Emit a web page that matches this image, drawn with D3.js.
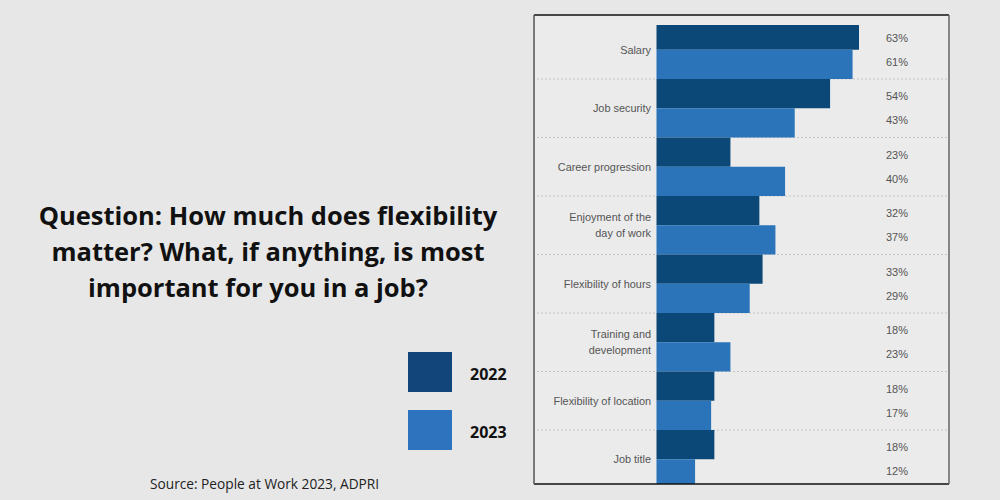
<!DOCTYPE html>
<html><head><meta charset="utf-8">
<script src="https://cdn.jsdelivr.net/npm/d3@7"></script>
<style>
html,body{margin:0;padding:0;background:#e7e7e7;}
svg{display:block;}
</style></head>
<body>
<svg id="chart" width="1000" height="500"></svg>
<script>
const categories = [["Salary"],["Job security"],["Career progression"],["Enjoyment of the","day of work"],["Flexibility of hours"],["Training and","development"],["Flexibility of location"],["Job title"]];
const years = ["2022","2023"];
const values2022 = [63,54,23,32,33,18,18,18];
const values2023 = [61,43,40,37,29,23,17,12];
const titleLines = ["Question: How much does flexibility","matter? What, if anything, is most","important for you in a job?"];
const sourceText = "Source: People at Work 2023, ADPRI";

const colors = {"2022":"#0b4878","2023":"#2b74ba"};
const svg = d3.select("#chart");

// box
const box = {x0:534, y0:15, x1:949, y1:484};
svg.append("rect").attr("x",box.x0).attr("y",box.y0).attr("width",box.x1-box.x0).attr("height",box.y1-box.y0).attr("fill","#ebebeb");

const idx = categories.map((d,i)=>i);
const y = d3.scaleBand().domain(idx).range([20.5, 20.5+58.5*8]).paddingInner(0).paddingOuter(0);
const ySub = d3.scaleBand().domain(years).range([0, y.bandwidth()]);
const x = d3.scaleLinear().domain([0,63]).range([656.5, 859]);

svg.append("defs").append("clipPath").attr("id","clip")
  .append("rect").attr("x",box.x0).attr("y",25).attr("width",box.x1-box.x0).attr("height",box.y1-25);

// separators
svg.append("g").selectAll("line").data(idx.slice(1)).join("line")
  .attr("x1",box.x0+3).attr("x2",box.x1-2)
  .attr("y1",d=>y(d)).attr("y2",d=>y(d))
  .attr("stroke","#c4c4c4").attr("stroke-width",1).attr("stroke-dasharray","2,2");

const rows = [];
idx.forEach(i=>{
  rows.push({i, year:"2022", v:values2022[i]});
  rows.push({i, year:"2023", v:values2023[i]});
});

svg.append("g").attr("clip-path","url(#clip)").selectAll("rect").data(rows).join("rect")
  .attr("x",x(0)).attr("y",d=>y(d.i)+ySub(d.year))
  .attr("width",d=>x(d.v)-x(0)).attr("height",ySub.bandwidth())
  .attr("fill",d=>colors[d.year]);

// value labels
svg.append("g").selectAll("text").data(rows).join("text")
  .attr("x",897).attr("y",d=>y(d.i)+y.bandwidth()/2+(d.year==="2022"?-12:12))
  .attr("dy","0.35em").attr("text-anchor","middle")
  .attr("font-family","Liberation Sans, Arial, sans-serif").attr("font-size",11).attr("fill","#555")
  .text(d=>d.v+"%");

// category labels
const cl = svg.append("g").selectAll("text").data(idx).join("text")
  .attr("text-anchor","end")
  .attr("font-family","Liberation Sans, Arial, sans-serif").attr("font-size",10.9).attr("fill","#555");
cl.each(function(i){
  const lines = categories[i];
  const cy = y(i)+y.bandwidth()/2;
  const t = d3.select(this);
  lines.forEach((ln,k)=>{
    t.append("tspan").attr("x",651).attr("y",cy+(k-(lines.length-1)/2)*16).attr("dy","0.35em").text(ln);
  });
});

// border
svg.append("line").attr("x1",box.x0).attr("x2",box.x1).attr("y1",box.y0).attr("y2",box.y0).attr("stroke","#111").attr("stroke-width",1.5);
svg.append("line").attr("x1",box.x0).attr("x2",box.x1).attr("y1",box.y1).attr("y2",box.y1).attr("stroke","#111").attr("stroke-width",1.5);
svg.append("line").attr("x1",box.x0).attr("x2",box.x0).attr("y1",box.y0).attr("y2",box.y1).attr("stroke","#555").attr("stroke-width",1.5);
svg.append("line").attr("x1",box.x1).attr("x2",box.x1).attr("y1",box.y0).attr("y2",box.y1).attr("stroke","#666").attr("stroke-width",1.5);

// title
svg.append("g").selectAll("text").data(titleLines).join("text")
  .attr("x",(d,i)=>i===2?258:268).attr("y",(d,i)=>225+i*36)
  .attr("text-anchor","middle")
  .attr("font-family","Open Sans, sans-serif").attr("font-weight",700).attr("font-size",25.5).attr("fill","#111")
  .text(d=>d);

// legend
const lg = svg.append("g").selectAll("g").data(years).join("g")
  .attr("transform",(d,i)=>`translate(408,${352+i*58})`);
lg.append("rect").attr("width",44).attr("height",40).attr("fill",d=>d==="2022"?"#12467a":"#2e73bd");
lg.append("text").attr("x",62).attr("y",22).attr("dy","0.35em")
  .attr("font-family","Open Sans, sans-serif").attr("font-weight",700).attr("font-size",16).attr("fill","#111")
  .text(d=>d);

// source
svg.append("text").attr("x",150).attr("y",489)
  .attr("font-family","Open Sans, sans-serif").attr("font-size",13.7).attr("fill","#222")
  .text(sourceText);
</script>
</body></html>
